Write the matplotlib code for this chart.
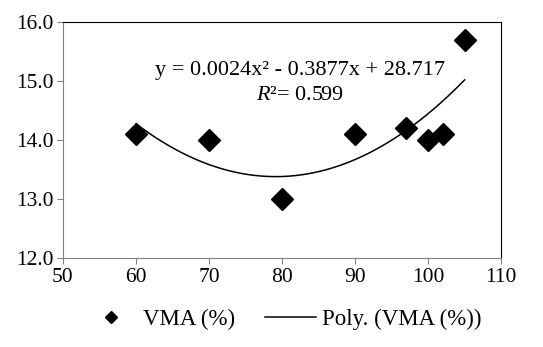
import numpy as np
import matplotlib
matplotlib.use("Agg")
import matplotlib.pyplot as plt

plt.rcParams['font.family'] = ['Liberation Serif', 'DejaVu Serif']
plt.rcParams['mathtext.fontset'] = 'custom'
plt.rcParams['mathtext.rm'] = 'Liberation Serif'
plt.rcParams['mathtext.it'] = 'Liberation Serif:italic'

# data
asphalt = [60, 70, 80, 90, 97, 100, 102, 105]
vma = [14.1, 14.0, 13.0, 14.1, 14.2, 14.0, 14.1, 15.7]
x_ticks = [50, 60, 70, 80, 90, 100, 110]
y_ticks = [12.0, 13.0, 14.0, 15.0, 16.0]

fig = plt.figure(figsize=(5.43, 3.47), dpi=100)
ax = fig.add_axes([0.116, 0.2565, 0.807, 0.68])

# second order trend line, like the spreadsheet's "Poly." series
coef = np.polyfit(asphalt, vma, 2)
xs = np.linspace(min(asphalt), max(asphalt), 200)
ax.plot(asphalt, vma, linestyle='none', marker='D', markersize=11,
        color='black', label='VMA (%)')
ax.plot(xs, np.polyval(coef, xs), color='black', linewidth=1.1,
        label='Poly. (VMA (%))')

ax.set_xlim(50, 110)
ax.set_ylim(12, 16)
ax.set_xticks(x_ticks)
ax.set_yticks(y_ticks)
ax.set_yticklabels([f"{v:.1f}" for v in y_ticks])
ax.tick_params(labelsize=15.5, length=4, color='#808080', pad=3)

for side in ['left', 'bottom']:
    ax.spines[side].set_color('#808080')
for side in ['top', 'right']:
    ax.spines[side].set_color('black')

ax.text(82.5, 15.18, "y = 0.0024x\u00b2 - 0.3877x + 28.717",
        ha='center', va='center', fontsize=16)
ax.text(82.5, 14.76, r"$R$" + "\u00b2= 0.599", ha='center', va='center',
        fontsize=16)

fig.legend(loc='lower center', bbox_to_anchor=(0.523, -0.01), ncol=2,
           frameon=False, fontsize=16.5, markerscale=0.55, handlelength=2.2,
           handletextpad=0.3, columnspacing=1.3)

fig.savefig('out.png', dpi=100)
